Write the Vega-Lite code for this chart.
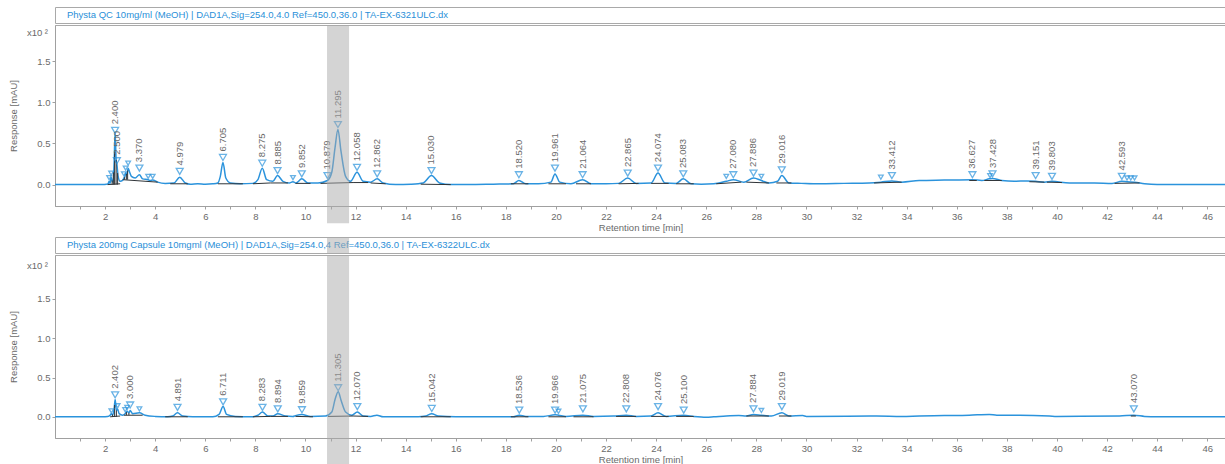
{
  "$schema": "https://vega.github.io/schema/vega-lite/v6.json",
  "padding": {"left": 8, "top": 6, "right": 0, "bottom": 0},
  "background": "white",
  "config": {
    "font": "Liberation Sans",
    "view": {"stroke": "#a9a9a9"},
    "axis": {"grid": false, "labelColor": "#6a6a6a", "labelFontSize": 9.5, "titleColor": "#6a6a6a", "titleFontSize": 9.5, "titleFontWeight": "normal", "tickColor": "#a0a0a0", "domainColor": "#a0a0a0", "tickSize": 3, "labelPadding": 2}
  },
  "datasets": {
    "trace": [
      {"panel":"top","t":0,"v":0},{"panel":"top","t":1.9,"v":0},{"panel":"top","t":2.05,"v":0.005},{"panel":"top","t":2.12,"v":0.01},{"panel":"top","t":2.16,"v":0.04},{"panel":"top","t":2.2,"v":0.015},{"panel":"top","t":2.24,"v":0.09},{"panel":"top","t":2.3,"v":0.03},{"panel":"top","t":2.36,"v":0.25},{"panel":"top","t":2.4,"v":0.64},{"panel":"top","t":2.44,"v":0.3},{"panel":"top","t":2.47,"v":0.25},{"panel":"top","t":2.52,"v":0.1},{"panel":"top","t":2.6,"v":0.04},{"panel":"top","t":2.7,"v":0.05},{"panel":"top","t":2.75,"v":0.08},{"panel":"top","t":2.79,"v":0.1},{"panel":"top","t":2.82,"v":0.14},{"panel":"top","t":2.87,"v":0.12},{"panel":"top","t":2.92,"v":0.2},{"panel":"top","t":2.98,"v":0.15},{"panel":"top","t":3.05,"v":0.1},{"panel":"top","t":3.2,"v":0.08},{"panel":"top","t":3.37,"v":0.12},{"panel":"top","t":3.5,"v":0.07},{"panel":"top","t":3.72,"v":0.06},{"panel":"top","t":3.8,"v":0.05},{"panel":"top","t":3.9,"v":0.055},{"panel":"top","t":4.1,"v":0.03},{"panel":"top","t":4.4,"v":0.015},{"panel":"top","t":4.75,"v":0.02},{"panel":"top","t":4.979,"v":0.09},{"panel":"top","t":5.2,"v":0.02},{"panel":"top","t":5.4,"v":0.005},{"panel":"top","t":5.7,"v":0.01},{"panel":"top","t":6.0,"v":0.005},{"panel":"top","t":6.3,"v":0.01},{"panel":"top","t":6.5,"v":0.02},{"panel":"top","t":6.6,"v":0.1},{"panel":"top","t":6.705,"v":0.27},{"panel":"top","t":6.82,"v":0.08},{"panel":"top","t":7.0,"v":0.02},{"panel":"top","t":7.4,"v":0.01},{"panel":"top","t":7.9,"v":0.015},{"panel":"top","t":8.1,"v":0.06},{"panel":"top","t":8.275,"v":0.2},{"panel":"top","t":8.45,"v":0.06},{"panel":"top","t":8.7,"v":0.04},{"panel":"top","t":8.885,"v":0.11},{"panel":"top","t":9.1,"v":0.04},{"panel":"top","t":9.35,"v":0.02},{"panel":"top","t":9.5,"v":0.035},{"panel":"top","t":9.62,"v":0.02},{"panel":"top","t":9.852,"v":0.07},{"panel":"top","t":10.1,"v":0.02},{"panel":"top","t":10.5,"v":0.02},{"panel":"top","t":10.879,"v":0.05},{"panel":"top","t":11.05,"v":0.15},{"panel":"top","t":11.18,"v":0.45},{"panel":"top","t":11.295,"v":0.67},{"panel":"top","t":11.42,"v":0.4},{"panel":"top","t":11.6,"v":0.1},{"panel":"top","t":11.8,"v":0.04},{"panel":"top","t":12.058,"v":0.15},{"panel":"top","t":12.3,"v":0.04},{"panel":"top","t":12.6,"v":0.03},{"panel":"top","t":12.862,"v":0.07},{"panel":"top","t":13.1,"v":0.02},{"panel":"top","t":13.6,"v":0.0},{"panel":"top","t":14.2,"v":0.005},{"panel":"top","t":14.7,"v":0.02},{"panel":"top","t":15.03,"v":0.11},{"panel":"top","t":15.35,"v":0.02},{"panel":"top","t":15.8,"v":0.0},{"panel":"top","t":16.5,"v":0.0},{"panel":"top","t":17.5,"v":0.005},{"panel":"top","t":18.3,"v":0.01},{"panel":"top","t":18.52,"v":0.05},{"panel":"top","t":18.8,"v":0.01},{"panel":"top","t":19.3,"v":0.01},{"panel":"top","t":19.8,"v":0.03},{"panel":"top","t":19.961,"v":0.13},{"panel":"top","t":20.15,"v":0.03},{"panel":"top","t":20.6,"v":0.01},{"panel":"top","t":21.064,"v":0.06},{"panel":"top","t":21.4,"v":0.01},{"panel":"top","t":22.0,"v":0.01},{"panel":"top","t":22.5,"v":0.015},{"panel":"top","t":22.865,"v":0.08},{"panel":"top","t":23.2,"v":0.015},{"panel":"top","t":23.8,"v":0.02},{"panel":"top","t":24.074,"v":0.14},{"panel":"top","t":24.35,"v":0.02},{"panel":"top","t":24.8,"v":0.015},{"panel":"top","t":25.083,"v":0.07},{"panel":"top","t":25.4,"v":0.01},{"panel":"top","t":25.8,"v":0.005},{"panel":"top","t":26.3,"v":0.01},{"panel":"top","t":26.8,"v":0.04},{"panel":"top","t":27.08,"v":0.06},{"panel":"top","t":27.5,"v":0.03},{"panel":"top","t":27.886,"v":0.08},{"panel":"top","t":28.2,"v":0.05},{"panel":"top","t":28.5,"v":0.02},{"panel":"top","t":28.85,"v":0.04},{"panel":"top","t":29.016,"v":0.11},{"panel":"top","t":29.3,"v":0.02},{"panel":"top","t":29.8,"v":0.015},{"panel":"top","t":30.5,"v":0.01},{"panel":"top","t":31.5,"v":0.015},{"panel":"top","t":32.5,"v":0.02},{"panel":"top","t":32.97,"v":0.03},{"panel":"top","t":33.412,"v":0.045},{"panel":"top","t":33.8,"v":0.03},{"panel":"top","t":34.5,"v":0.05},{"panel":"top","t":35.5,"v":0.055},{"panel":"top","t":36.627,"v":0.06},{"panel":"top","t":37.0,"v":0.05},{"panel":"top","t":37.3,"v":0.07},{"panel":"top","t":37.428,"v":0.075},{"panel":"top","t":37.8,"v":0.05},{"panel":"top","t":38.3,"v":0.04},{"panel":"top","t":38.8,"v":0.045},{"panel":"top","t":39.151,"v":0.04},{"panel":"top","t":39.5,"v":0.03},{"panel":"top","t":39.803,"v":0.04},{"panel":"top","t":40.5,"v":0.02},{"panel":"top","t":41.5,"v":0.02},{"panel":"top","t":42.2,"v":0.015},{"panel":"top","t":42.593,"v":0.04},{"panel":"top","t":42.8,"v":0.035},{"panel":"top","t":43.1,"v":0.03},{"panel":"top","t":43.5,"v":0.01},{"panel":"top","t":44,"v":0},{"panel":"top","t":46.75,"v":0},
      {"panel":"bottom","t":0,"v":0},{"panel":"bottom","t":1.9,"v":0},{"panel":"bottom","t":2.1,"v":0.005},{"panel":"bottom","t":2.2,"v":0.02},{"panel":"bottom","t":2.25,"v":0.04},{"panel":"bottom","t":2.3,"v":0.02},{"panel":"bottom","t":2.36,"v":0.1},{"panel":"bottom","t":2.402,"v":0.22},{"panel":"bottom","t":2.45,"v":0.08},{"panel":"bottom","t":2.5,"v":0.1},{"panel":"bottom","t":2.56,"v":0.04},{"panel":"bottom","t":2.7,"v":0.02},{"panel":"bottom","t":2.8,"v":0.04},{"panel":"bottom","t":2.88,"v":0.07},{"panel":"bottom","t":2.95,"v":0.05},{"panel":"bottom","t":3.0,"v":0.08},{"panel":"bottom","t":3.1,"v":0.04},{"panel":"bottom","t":3.37,"v":0.05},{"panel":"bottom","t":3.6,"v":0.02},{"panel":"bottom","t":4.0,"v":0.005},{"panel":"bottom","t":4.5,"v":0.0},{"panel":"bottom","t":4.7,"v":0.01},{"panel":"bottom","t":4.891,"v":0.05},{"panel":"bottom","t":5.1,"v":0.01},{"panel":"bottom","t":5.5,"v":0},{"panel":"bottom","t":6.3,"v":0},{"panel":"bottom","t":6.55,"v":0.03},{"panel":"bottom","t":6.711,"v":0.13},{"panel":"bottom","t":6.85,"v":0.03},{"panel":"bottom","t":7.2,"v":0.005},{"panel":"bottom","t":7.8,"v":0},{"panel":"bottom","t":8.1,"v":0.02},{"panel":"bottom","t":8.283,"v":0.06},{"panel":"bottom","t":8.5,"v":0.01},{"panel":"bottom","t":8.7,"v":0.01},{"panel":"bottom","t":8.894,"v":0.04},{"panel":"bottom","t":9.2,"v":0.01},{"panel":"bottom","t":9.5,"v":0.005},{"panel":"bottom","t":9.6,"v":0.015},{"panel":"bottom","t":9.859,"v":0.03},{"panel":"bottom","t":10.2,"v":0.005},{"panel":"bottom","t":10.8,"v":0.01},{"panel":"bottom","t":11.05,"v":0.06},{"panel":"bottom","t":11.18,"v":0.22},{"panel":"bottom","t":11.305,"v":0.32},{"panel":"bottom","t":11.43,"v":0.2},{"panel":"bottom","t":11.6,"v":0.06},{"panel":"bottom","t":11.85,"v":0.02},{"panel":"bottom","t":12.07,"v":0.06},{"panel":"bottom","t":12.3,"v":0.01},{"panel":"bottom","t":12.6,"v":0.005},{"panel":"bottom","t":12.85,"v":0.02},{"panel":"bottom","t":13.1,"v":0.0},{"panel":"bottom","t":14.5,"v":0.0},{"panel":"bottom","t":14.8,"v":0.01},{"panel":"bottom","t":15.042,"v":0.04},{"panel":"bottom","t":15.3,"v":0.01},{"panel":"bottom","t":16,"v":0},{"panel":"bottom","t":18.3,"v":0.0},{"panel":"bottom","t":18.536,"v":0.02},{"panel":"bottom","t":18.8,"v":0.005},{"panel":"bottom","t":19.5,"v":0.005},{"panel":"bottom","t":19.966,"v":0.025},{"panel":"bottom","t":20.1,"v":0.02},{"panel":"bottom","t":20.4,"v":0.005},{"panel":"bottom","t":21.075,"v":0.02},{"panel":"bottom","t":21.5,"v":0.005},{"panel":"bottom","t":22.3,"v":0.01},{"panel":"bottom","t":22.808,"v":0.02},{"panel":"bottom","t":23.2,"v":0.005},{"panel":"bottom","t":23.8,"v":0.01},{"panel":"bottom","t":24.076,"v":0.05},{"panel":"bottom","t":24.4,"v":0.005},{"panel":"bottom","t":25.1,"v":0.02},{"panel":"bottom","t":25.5,"v":0.005},{"panel":"bottom","t":26.0,"v":-0.005},{"panel":"bottom","t":26.3,"v":0.0},{"panel":"bottom","t":26.8,"v":0.01},{"panel":"bottom","t":27.3,"v":0.015},{"panel":"bottom","t":27.6,"v":0.01},{"panel":"bottom","t":27.884,"v":0.03},{"panel":"bottom","t":28.2,"v":0.02},{"panel":"bottom","t":28.6,"v":0.01},{"panel":"bottom","t":29.019,"v":0.05},{"panel":"bottom","t":29.3,"v":0.01},{"panel":"bottom","t":29.85,"v":0.015},{"panel":"bottom","t":30.0,"v":0.005},{"panel":"bottom","t":32.8,"v":0.01},{"panel":"bottom","t":33.8,"v":0.005},{"panel":"bottom","t":34.5,"v":0.01},{"panel":"bottom","t":35.5,"v":0.015},{"panel":"bottom","t":36.5,"v":0.02},{"panel":"bottom","t":37.3,"v":0.03},{"panel":"bottom","t":37.6,"v":0.02},{"panel":"bottom","t":38.5,"v":0.02},{"panel":"bottom","t":39.7,"v":0.01},{"panel":"bottom","t":40.0,"v":0.005},{"panel":"bottom","t":42.5,"v":0.01},{"panel":"bottom","t":43.07,"v":0.02},{"panel":"bottom","t":43.5,"v":0.005},{"panel":"bottom","t":44,"v":0},{"panel":"bottom","t":46.75,"v":0}
    ],
    "peaks": [
      {"panel":"top","t":2.16,"v":0.085,"label":""},{"panel":"top","t":2.24,"v":0.14,"label":""},{"panel":"top","t":2.4,"v":0.66,"label":"2.400"},{"panel":"top","t":2.47,"v":0.29,"label":"2.500"},{"panel":"top","t":2.75,"v":0.13,"label":""},{"panel":"top","t":2.82,"v":0.2,"label":""},{"panel":"top","t":2.92,"v":0.26,"label":""},{"panel":"top","t":3.37,"v":0.2,"label":"3.370"},{"panel":"top","t":3.72,"v":0.1,"label":""},{"panel":"top","t":3.9,"v":0.1,"label":""},{"panel":"top","t":4.979,"v":0.16,"label":"4.979"},{"panel":"top","t":6.705,"v":0.33,"label":"6.705"},{"panel":"top","t":8.275,"v":0.26,"label":"8.275"},{"panel":"top","t":8.885,"v":0.17,"label":"8.885"},{"panel":"top","t":9.5,"v":0.085,"label":""},{"panel":"top","t":9.852,"v":0.13,"label":"9.852"},{"panel":"top","t":10.879,"v":0.11,"label":"10.879"},{"panel":"top","t":11.295,"v":0.73,"label":"11.295"},{"panel":"top","t":12.058,"v":0.21,"label":"12.058"},{"panel":"top","t":12.862,"v":0.13,"label":"12.862"},{"panel":"top","t":15.03,"v":0.17,"label":"15.030"},{"panel":"top","t":18.52,"v":0.12,"label":"18.520"},{"panel":"top","t":19.961,"v":0.2,"label":"19.961"},{"panel":"top","t":21.064,"v":0.12,"label":"21.064"},{"panel":"top","t":22.865,"v":0.14,"label":"22.865"},{"panel":"top","t":24.074,"v":0.2,"label":"24.074"},{"panel":"top","t":25.083,"v":0.13,"label":"25.083"},{"panel":"top","t":26.8,"v":0.1,"label":""},{"panel":"top","t":27.08,"v":0.12,"label":"27.080"},{"panel":"top","t":27.886,"v":0.14,"label":"27.886"},{"panel":"top","t":28.2,"v":0.1,"label":""},{"panel":"top","t":29.016,"v":0.18,"label":"29.016"},{"panel":"top","t":32.97,"v":0.09,"label":""},{"panel":"top","t":33.412,"v":0.11,"label":"33.412"},{"panel":"top","t":36.627,"v":0.12,"label":"36.627"},{"panel":"top","t":37.33,"v":0.11,"label":""},{"panel":"top","t":37.428,"v":0.13,"label":"37.428"},{"panel":"top","t":39.151,"v":0.11,"label":"39.151"},{"panel":"top","t":39.803,"v":0.1,"label":"39.803"},{"panel":"top","t":42.593,"v":0.1,"label":"42.593"},{"panel":"top","t":42.8,"v":0.08,"label":""},{"panel":"top","t":42.95,"v":0.08,"label":""},{"panel":"top","t":43.1,"v":0.08,"label":""},
      {"panel":"bottom","t":2.25,"v":0.076,"label":""},{"panel":"bottom","t":2.402,"v":0.28,"label":"2.402"},{"panel":"bottom","t":2.5,"v":0.14,"label":""},{"panel":"bottom","t":2.8,"v":0.09,"label":""},{"panel":"bottom","t":2.88,"v":0.12,"label":""},{"panel":"bottom","t":3.0,"v":0.15,"label":"3.000"},{"panel":"bottom","t":3.37,"v":0.1,"label":""},{"panel":"bottom","t":4.891,"v":0.12,"label":"4.891"},{"panel":"bottom","t":6.711,"v":0.19,"label":"6.711"},{"panel":"bottom","t":8.283,"v":0.12,"label":"8.283"},{"panel":"bottom","t":8.894,"v":0.1,"label":"8.894"},{"panel":"bottom","t":9.859,"v":0.09,"label":"9.859"},{"panel":"bottom","t":11.305,"v":0.37,"label":"11.305"},{"panel":"bottom","t":12.07,"v":0.13,"label":"12.070"},{"panel":"bottom","t":15.042,"v":0.106,"label":"15.042"},{"panel":"bottom","t":18.536,"v":0.085,"label":"18.536"},{"panel":"bottom","t":19.966,"v":0.085,"label":"19.966"},{"panel":"bottom","t":20.1,"v":0.07,"label":""},{"panel":"bottom","t":21.075,"v":0.1,"label":"21.075"},{"panel":"bottom","t":22.808,"v":0.1,"label":"22.808"},{"panel":"bottom","t":24.076,"v":0.13,"label":"24.076"},{"panel":"bottom","t":25.1,"v":0.085,"label":"25.100"},{"panel":"bottom","t":27.884,"v":0.1,"label":"27.884"},{"panel":"bottom","t":28.2,"v":0.08,"label":""},{"panel":"bottom","t":29.019,"v":0.13,"label":"29.019"},{"panel":"bottom","t":43.07,"v":0.1,"label":"43.070"}
    ],
    "bl": [
      {"panel":"top","t1":2.1,"t2":2.6,"v1":0.0,"v2":0.01},{"panel":"top","t1":2.28,"t2":2.28,"v1":0.0,"v2":0.05},{"panel":"top","t1":2.33,"t2":2.33,"v1":0.0,"v2":0.15},{"panel":"top","t1":2.38,"t2":2.38,"v1":0.0,"v2":0.4},{"panel":"top","t1":2.44,"t2":2.44,"v1":0.0,"v2":0.3},{"panel":"top","t1":2.5,"t2":2.5,"v1":0.0,"v2":0.14},{"panel":"top","t1":2.7,"t2":4.1,"v1":0.06,"v2":0.03},{"panel":"top","t1":2.78,"t2":2.78,"v1":0.06,"v2":0.09},{"panel":"top","t1":2.85,"t2":2.85,"v1":0.06,"v2":0.13},{"panel":"top","t1":2.9,"t2":2.9,"v1":0.06,"v2":0.17},{"panel":"top","t1":4.6,"t2":5.3,"v1":0.01,"v2":0.01},{"panel":"top","t1":6.5,"t2":7.5,"v1":0.01,"v2":0.01},{"panel":"top","t1":7.9,"t2":8.6,"v1":0.01,"v2":0.02},{"panel":"top","t1":8.6,"t2":9.3,"v1":0.02,"v2":0.02},{"panel":"top","t1":9.6,"t2":10.2,"v1":0.015,"v2":0.015},{"panel":"top","t1":10.6,"t2":11.9,"v1":0.015,"v2":0.025},{"panel":"top","t1":11.9,"t2":12.5,"v1":0.025,"v2":0.025},{"panel":"top","t1":12.6,"t2":13.2,"v1":0.02,"v2":0.01},{"panel":"top","t1":14.6,"t2":15.8,"v1":0.005,"v2":0.0},{"panel":"top","t1":18.2,"t2":18.9,"v1":0.01,"v2":0.01},{"panel":"top","t1":19.7,"t2":20.4,"v1":0.01,"v2":0.01},{"panel":"top","t1":20.8,"t2":21.4,"v1":0.01,"v2":0.01},{"panel":"top","t1":22.5,"t2":23.3,"v1":0.01,"v2":0.015},{"panel":"top","t1":23.8,"t2":24.5,"v1":0.015,"v2":0.015},{"panel":"top","t1":24.8,"t2":25.5,"v1":0.01,"v2":0.01},{"panel":"top","t1":26.4,"t2":27.4,"v1":0.01,"v2":0.03},{"panel":"top","t1":27.6,"t2":28.5,"v1":0.03,"v2":0.02},{"panel":"top","t1":28.8,"t2":29.4,"v1":0.02,"v2":0.02},{"panel":"top","t1":32.7,"t2":33.8,"v1":0.02,"v2":0.03},{"panel":"top","t1":36.5,"t2":36.8,"v1":0.05,"v2":0.05},{"panel":"top","t1":37.1,"t2":37.8,"v1":0.05,"v2":0.05},{"panel":"top","t1":38.9,"t2":39.5,"v1":0.035,"v2":0.03},{"panel":"top","t1":39.6,"t2":40.2,"v1":0.03,"v2":0.025},{"panel":"top","t1":42.3,"t2":43.3,"v1":0.015,"v2":0.02},
      {"panel":"bottom","t1":2.2,"t2":2.6,"v1":0.0,"v2":0.01},{"panel":"bottom","t1":2.3,"t2":2.3,"v1":0.0,"v2":0.03},{"panel":"bottom","t1":2.38,"t2":2.38,"v1":0.0,"v2":0.15},{"panel":"bottom","t1":2.45,"t2":2.45,"v1":0.0,"v2":0.08},{"panel":"bottom","t1":2.75,"t2":3.5,"v1":0.02,"v2":0.02},{"panel":"bottom","t1":2.85,"t2":2.85,"v1":0.02,"v2":0.06},{"panel":"bottom","t1":2.95,"t2":2.95,"v1":0.02,"v2":0.05},{"panel":"bottom","t1":4.4,"t2":5.3,"v1":0.0,"v2":0.0},{"panel":"bottom","t1":6.5,"t2":7.5,"v1":0.0,"v2":0.0},{"panel":"bottom","t1":7.9,"t2":8.6,"v1":0.0,"v2":0.005},{"panel":"bottom","t1":8.6,"t2":9.3,"v1":0.005,"v2":0.005},{"panel":"bottom","t1":9.6,"t2":10.3,"v1":0.005,"v2":0.0},{"panel":"bottom","t1":10.9,"t2":11.9,"v1":0.005,"v2":0.01},{"panel":"bottom","t1":11.9,"t2":12.5,"v1":0.01,"v2":0.005},{"panel":"bottom","t1":14.6,"t2":15.8,"v1":0.0,"v2":0.0},{"panel":"bottom","t1":18.2,"t2":18.9,"v1":0.0,"v2":0.0},{"panel":"bottom","t1":19.7,"t2":20.4,"v1":0.0,"v2":0.0},{"panel":"bottom","t1":20.7,"t2":21.5,"v1":0.0,"v2":0.0},{"panel":"bottom","t1":22.4,"t2":23.2,"v1":0.005,"v2":0.005},{"panel":"bottom","t1":23.8,"t2":24.5,"v1":0.005,"v2":0.005},{"panel":"bottom","t1":24.8,"t2":25.5,"v1":0.005,"v2":0.005},{"panel":"bottom","t1":27.6,"t2":28.5,"v1":0.01,"v2":0.01},{"panel":"bottom","t1":28.9,"t2":29.4,"v1":0.01,"v2":0.01},{"panel":"bottom","t1":42.95,"t2":43.15,"v1":0.01,"v2":0.01}
    ],
    "band": [
      {"panel":"top","t1": 10.86, "t2": 11.74, "y1": 1.94, "y2": -0.47},
      {"panel":"bottom","t1": 10.86, "t2": 11.74, "y1": 2.06, "y2": -0.62}
    ],
    "heads": [
      {"panel":"top","title":"Physta QC 10mg/ml (MeOH) | DAD1A,Sig=254.0,4.0  Ref=450.0,36.0 | TA-EX-6321ULC.dx"},
      {"panel":"bottom","title":"Physta 200mg Capsule 10mgml (MeOH) | DAD1A,Sig=254.0,4  Ref=450.0,36.0 | TA-EX-6322ULC.dx"}
    ],
    "mult": [{"note": "x10 \u00b2"}]
  },
  "spacing": 3,
  "vconcat": [
    {
      "spacing": 0,
      "vconcat": [
        {
          "width": 1171, "height": 16,
          "data": {"name": "heads"},
          "transform": [{"filter": "datum.panel == 'top'"}],
          "mark": {"type": "text", "align": "left", "baseline": "middle", "fontSize": 9.5, "color": "#2a8fd8"},
          "encoding": {"text": {"field": "title"}, "x": {"value": 12}, "y": {"value": 8}}
        },
        {
          "width": 1171, "height": 181,
          "resolve": {"axis": {"x": "independent"}},
          "layer": [
            {
              "data": {"name": "trace"},
              "transform": [{"filter": "datum.panel == 'top'"}],
              "mark": {"type": "line", "interpolate": "monotone", "color": "#2b93dc", "strokeWidth": 1.5},
              "encoding": {
                "x": {"field": "t", "type": "quantitative", "scale": {"domain": [0, 46.75], "nice": false, "zero": false},
                  "axis": {"orient": "bottom", "title": "Retention time [min]", "values": [2,4,6,8,10,12,14,16,18,20,22,24,26,28,30,32,34,36,38,40,42,44,46], "labelOverlap": false, "labelFlush": false, "titlePadding": 2}},
                "y": {"field": "v", "type": "quantitative", "scale": {"domain": [-0.26, 1.94], "nice": false, "zero": false},
                  "axis": {"title": "Response [mAU]", "values": [0, 0.5, 1, 1.5], "format": ".1f", "titlePadding": 18}}
              }
            },
            {
              "data": {"name": "bl"},
              "transform": [{"filter": "datum.panel == 'top'"}],
              "mark": {"type": "rule", "color": "#2f3438", "strokeWidth": 1},
              "encoding": {
                "x": {"field": "t1", "type": "quantitative", "axis": {"orient": "bottom", "title": null, "labels": false, "domain": false, "values": [1,3,5,7,9,11,13,15,17,19,21,23,25,27,29,31,33,35,37,39,41,43,45]}}, "x2": {"field": "t2"},
                "y": {"field": "v1", "type": "quantitative"}, "y2": {"field": "v2"}
              }
            },
            {
              "data": {"name": "peaks"},
              "transform": [{"filter": "datum.panel == 'top'"}],
              "mark": {"type": "point", "shape": "triangle-down", "filled": false, "color": "#2b93dc", "strokeWidth": 1.3},
              "encoding": {
                "x": {"field": "t", "type": "quantitative", "axis": null},
                "y": {"field": "v", "type": "quantitative"},
                "size": {"condition": {"test": "datum.label == ''", "value": 22}, "value": 48}
              }
            },
            {
              "data": {"name": "peaks"},
              "transform": [{"filter": "datum.panel == 'top' && datum.label != ''"}],
              "mark": {"type": "text", "angle": 270, "align": "left", "baseline": "middle", "dx": 6, "fontSize": 9.5, "color": "#6a6a6a"},
              "encoding": {
                "x": {"field": "t", "type": "quantitative", "axis": null},
                "y": {"field": "v", "type": "quantitative"},
                "text": {"field": "label"}
              }
            },
            {
              "data": {"name": "mult"},
              "mark": {"type": "text", "align": "right", "baseline": "middle", "fontSize": 9.5, "color": "#6a6a6a"},
              "encoding": {"text": {"field": "note"}, "x": {"value": -7}, "y": {"value": 8}}
            },
            {
              "data": {"name": "band"},
              "transform": [{"filter": "datum.panel == 'top'"}],
              "mark": {"type": "rect", "color": "#aaaaaa", "opacity": 0.5, "clip": false},
              "encoding": {"x": {"field": "t1", "type": "quantitative", "axis": null}, "x2": {"field": "t2"}, "y": {"field": "y1", "type": "quantitative"}, "y2": {"field": "y2"}}
            }
          ]
        }
      ]
    },
    {
      "spacing": 0,
      "vconcat": [
        {
          "width": 1171, "height": 16,
          "layer": [
            {
              "data": {"name": "heads"},
              "transform": [{"filter": "datum.panel == 'bottom'"}],
              "mark": {"type": "text", "align": "left", "baseline": "middle", "fontSize": 9.5, "color": "#2a8fd8"},
              "encoding": {"text": {"field": "title"}, "x": {"value": 12}, "y": {"value": 8}}
            },
            {
              "data": {"name": "band"},
              "transform": [{"filter": "datum.panel == 'bottom'"}],
              "mark": {"type": "rect", "color": "#aaaaaa", "opacity": 0.5},
              "encoding": {"x": {"field": "t1", "type": "quantitative", "scale": {"domain": [0, 46.75], "nice": false, "zero": false}, "axis": null}, "x2": {"field": "t2"}}
            }
          ]
        },
        {
          "width": 1171, "height": 183,
          "resolve": {"axis": {"x": "independent"}},
          "layer": [
            {
              "data": {"name": "trace"},
              "transform": [{"filter": "datum.panel == 'bottom'"}],
              "mark": {"type": "line", "interpolate": "monotone", "color": "#2b93dc", "strokeWidth": 1.5},
              "encoding": {
                "x": {"field": "t", "type": "quantitative", "scale": {"domain": [0, 46.75], "nice": false, "zero": false},
                  "axis": {"orient": "bottom", "title": "Retention time [min]", "values": [2,4,6,8,10,12,14,16,18,20,22,24,26,28,30,32,34,36,38,40,42,44,46], "labelOverlap": false, "labelFlush": false, "titlePadding": 2}},
                "y": {"field": "v", "type": "quantitative", "scale": {"domain": [-0.27, 2.06], "nice": false, "zero": false},
                  "axis": {"title": "Response [mAU]", "values": [0, 0.5, 1, 1.5], "format": ".1f", "titlePadding": 18}}
              }
            },
            {
              "data": {"name": "bl"},
              "transform": [{"filter": "datum.panel == 'bottom'"}],
              "mark": {"type": "rule", "color": "#2f3438", "strokeWidth": 1},
              "encoding": {
                "x": {"field": "t1", "type": "quantitative", "axis": {"orient": "bottom", "title": null, "labels": false, "domain": false, "values": [1,3,5,7,9,11,13,15,17,19,21,23,25,27,29,31,33,35,37,39,41,43,45]}}, "x2": {"field": "t2"},
                "y": {"field": "v1", "type": "quantitative"}, "y2": {"field": "v2"}
              }
            },
            {
              "data": {"name": "peaks"},
              "transform": [{"filter": "datum.panel == 'bottom'"}],
              "mark": {"type": "point", "shape": "triangle-down", "filled": false, "color": "#2b93dc", "strokeWidth": 1.3},
              "encoding": {
                "x": {"field": "t", "type": "quantitative", "axis": null},
                "y": {"field": "v", "type": "quantitative"},
                "size": {"condition": {"test": "datum.label == ''", "value": 22}, "value": 48}
              }
            },
            {
              "data": {"name": "peaks"},
              "transform": [{"filter": "datum.panel == 'bottom' && datum.label != ''"}],
              "mark": {"type": "text", "angle": 270, "align": "left", "baseline": "middle", "dx": 6, "fontSize": 9.5, "color": "#6a6a6a"},
              "encoding": {
                "x": {"field": "t", "type": "quantitative", "axis": null},
                "y": {"field": "v", "type": "quantitative"},
                "text": {"field": "label"}
              }
            },
            {
              "data": {"name": "mult"},
              "mark": {"type": "text", "align": "right", "baseline": "middle", "fontSize": 9.5, "color": "#6a6a6a"},
              "encoding": {"text": {"field": "note"}, "x": {"value": -7}, "y": {"value": 11}}
            },
            {
              "data": {"name": "band"},
              "transform": [{"filter": "datum.panel == 'bottom'"}],
              "mark": {"type": "rect", "color": "#aaaaaa", "opacity": 0.5, "clip": false},
              "encoding": {"x": {"field": "t1", "type": "quantitative", "axis": null}, "x2": {"field": "t2"}, "y": {"field": "y1", "type": "quantitative"}, "y2": {"field": "y2"}}
            }
          ]
        }
      ]
    }
  ]
}
